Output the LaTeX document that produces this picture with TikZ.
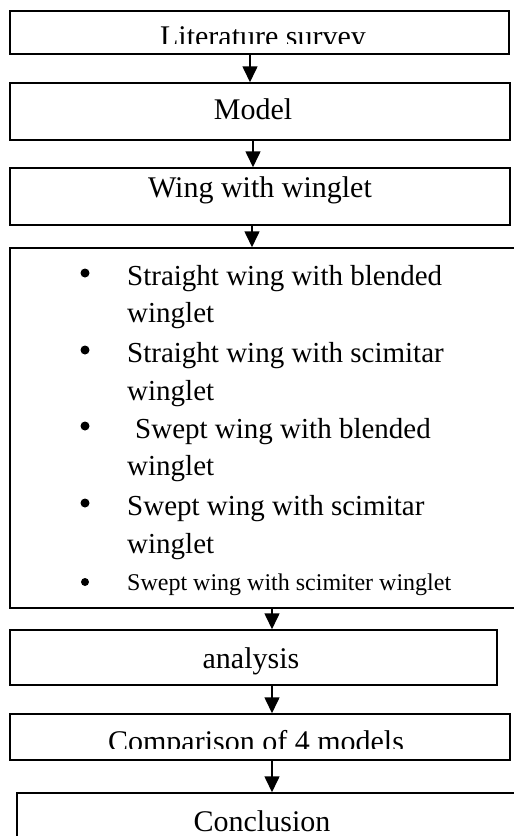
\documentclass[tikz,border=0pt]{standalone}
\usepackage{fontspec}
\setmainfont{Liberation Serif}
\usetikzlibrary{arrows.meta}

\begin{document}
\begin{tikzpicture}[x=1pt,y=-1pt,
    box/.style={draw,line width=1.5pt,inner sep=0pt},
    lbl/.style={anchor=base,inner sep=0pt,font=\fontsize{30}{36}\selectfont},
    item/.style={anchor=base west,inner sep=0pt,font=\fontsize{29}{36}\selectfont},
    smallitem/.style={anchor=base west,inner sep=0pt,font=\fontsize{24}{30}\selectfont},
    dot/.style={circle,fill,inner sep=0pt,minimum size=9pt},
    arr/.style={line width=1.6pt,-{Triangle[width=15pt,length=16pt]}}]
    \useasboundingbox (0,0) rectangle (514,836);
    % the boxes
    \node[box,minimum width=499pt,minimum height=43pt] (lit) at (259.5,32.5) {};
    \node[box,minimum width=500pt,minimum height=57pt] (model) at (260,111.5) {};
    \node[box,minimum width=500pt,minimum height=57pt] (wing) at (260,196.5) {};
    \node[box,minimum width=530pt,minimum height=360pt] (types) at (275,428) {};
    \node[box,minimum width=487pt,minimum height=55pt] (ana) at (253.5,657.5) {};
    \node[box,minimum width=500pt,minimum height=46pt] (comp) at (260,737) {};
    \node[box,minimum width=523pt,minimum height=87pt] (concl) at (278.5,836.5) {};
    % texts of the boxes (two of them cut off at the bottom)
    \begin{scope}
        \clip (10,11) rectangle (509,43);
        \node[lbl] (littext) at (263,46) {Literature survey};
    \end{scope}
    \node[lbl] (modeltext) at (253,119) {Model};
    \node[lbl] (wingtext) at (260,197) {Wing with winglet};
    \node[lbl] (anatext) at (251,668) {analysis};
    \begin{scope}
        \clip (10,714) rectangle (510,748);
        \node[lbl] (comptext) at (256,751) {Comparison of 4 models};
    \end{scope}
    \node[lbl] (concltext) at (262,831) {Conclusion};
    % the list
    \node[dot] (b1) at (85,273) {};
    \node[item] (t1a) at (127,285) {Straight wing with blended};
    \node[item] (t1b) at (127,322) {winglet};
    \node[dot] (b2) at (85,350) {};
    \node[item] (t2a) at (127,362) {Straight wing with scimitar};
    \node[item] (t2b) at (127,400) {winglet};
    \node[dot] (b3) at (85,426) {};
    \node[item] (t3a) at (135,438) {Swept wing with blended};
    \node[item] (t3b) at (127,475) {winglet};
    \node[dot] (b4) at (85,503) {};
    \node[item] (t4a) at (127,515) {Swept wing with scimitar};
    \node[item] (t4b) at (127,553) {winglet};
    \node[dot,minimum size=8pt] (b5) at (85,582) {};
    \node[smallitem] (t5) at (127,590) {Swept wing with scimiter winglet};
    % arrows
    \draw[arr] (250,0 |- lit.south) -- (250,0 |- model.north);
    \draw[arr] (253,0 |- model.south) -- (253,0 |- wing.north);
    \draw[arr] (252,0 |- wing.south) -- (252,0 |- types.north);
    \draw[arr] (272,0 |- types.south) -- (272,0 |- ana.north);
    \draw[arr] (272,0 |- ana.south) -- (272,0 |- comp.north);
    \draw[arr] (272,0 |- comp.south) -- (272,0 |- concl.north);
\end{tikzpicture}
\end{document}
